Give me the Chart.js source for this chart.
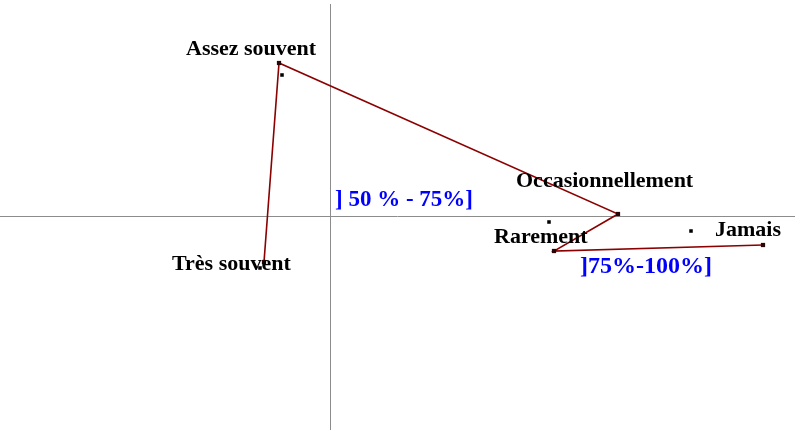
<!DOCTYPE html>
<html>
<head>
<meta charset="utf-8">
<script src="https://cdn.jsdelivr.net/npm/chart.js@4/dist/chart.umd.min.js"></script>
<style>
    html, body { margin: 0; padding: 0; background: #fff; }
    #wrap { width: 795px; height: 430px; }
</style>
</head>
<body>
<div id="wrap"><canvas id="planChart" width="795" height="430"></canvas></div>
<script>
// Modalités de fréquence (ligne) et modalités du pourcentage (points noirs)
const categories = ['Très souvent', 'Assez souvent', 'Occasionnellement', 'Rarement', 'Jamais'];
const axis1 = [-0.66, -0.51, 2.88, 2.24, 4.33];
const axis2 = [-0.46, 1.53, 0.02, -0.35, -0.29];

const extraX = [-0.48, -0.70, 2.19, 3.61];
const extraY = [1.41, -0.52, -0.06, -0.15];

const classLabels = ['] 50 % - 75%]', ']75%-100%]'];
const classX = [0.05, 2.50];
const classY = [0.10, -0.57];

// décalage des étiquettes (px) : gauche du texte, ligne de base
const labelOffsets = [[-92, 8], [-93, -8], [-102, -27], [-60, -8], [-48, -9]];

const labelFont = 'bold 22px "Liberation Serif", "Times New Roman", serif';
const classFonts = [
    'bold 23px "Liberation Serif", "Times New Roman", serif',
    'bold 24px "Liberation Serif", "Times New Roman", serif'
];

const axesCross = {
    id: 'axesCross',
    beforeDatasetsDraw(chart) {
        const { ctx, scales: { x, y } } = chart;
        const x0 = Math.round(x.getPixelForValue(0)) + 0.5;
        const y0 = Math.round(y.getPixelForValue(0)) + 0.5;
        ctx.save();
        ctx.strokeStyle = '#8c8c8c';
        ctx.lineWidth = 1;
        ctx.beginPath();
        ctx.moveTo(x0, chart.chartArea.top);
        ctx.lineTo(x0, chart.chartArea.bottom);
        ctx.moveTo(0, y0);
        ctx.lineTo(chart.width, y0);
        ctx.stroke();
        ctx.restore();
    }
};

const pointLabels = {
    id: 'pointLabels',
    afterDatasetsDraw(chart) {
        const { ctx, scales: { x, y } } = chart;
        ctx.save();
        ctx.textAlign = 'left';
        ctx.textBaseline = 'alphabetic';
        ctx.fillStyle = '#000';
        ctx.font = labelFont;
        categories.forEach((name, i) => {
            const px = x.getPixelForValue(axis1[i]) + labelOffsets[i][0];
            const py = y.getPixelForValue(axis2[i]) + labelOffsets[i][1];
            ctx.fillText(name, px, py);
        });
        ctx.fillStyle = '#0000ff';
        classLabels.forEach((name, i) => {
            ctx.font = classFonts[i];
            ctx.fillText(name, x.getPixelForValue(classX[i]), y.getPixelForValue(classY[i]));
        });
        ctx.restore();
    }
};

new Chart(document.getElementById('planChart'), {
    type: 'scatter',
    data: {
        datasets: [
            {
                data: categories.map((c, i) => ({ x: axis1[i], y: axis2[i] })),
                showLine: true,
                borderColor: '#8b0000',
                borderWidth: 1.6,
                tension: 0,
                pointStyle: 'rect',
                pointRadius: 3,
                pointBackgroundColor: '#2a0505',
                pointBorderColor: '#2a0505',
                pointBorderWidth: 0
            },
            {
                data: extraX.map((v, i) => ({ x: v, y: extraY[i] })),
                pointStyle: 'rect',
                pointRadius: 2.5,
                pointBackgroundColor: '#000',
                pointBorderColor: '#000',
                pointBorderWidth: 0
            }
        ]
    },
    options: {
        responsive: false,
        animation: false,
        layout: { autoPadding: false, padding: { top: 4, left: 0, right: 0, bottom: 0 } },
        plugins: {
            legend: { display: false },
            tooltip: { enabled: false }
        },
        scales: {
            x: { type: 'linear', min: -3.3, max: 4.65, display: false },
            y: { type: 'linear', min: -2.14, max: 2.12, display: false }
        }
    },
    plugins: [axesCross, pointLabels]
});
</script>
</body>
</html>
